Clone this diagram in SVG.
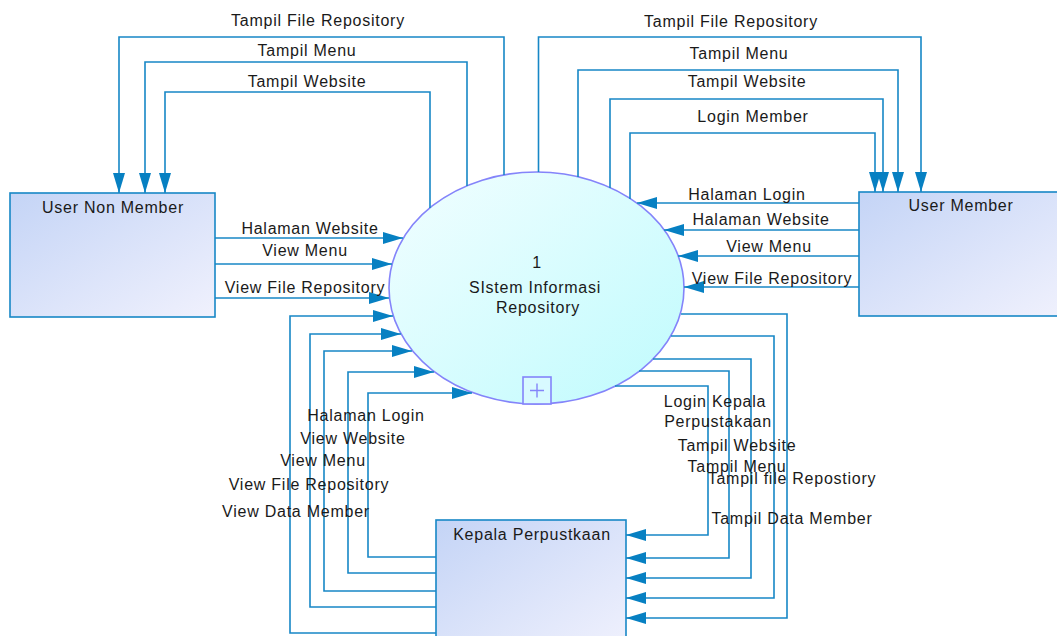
<svg xmlns="http://www.w3.org/2000/svg" width="1057" height="636" viewBox="0 0 1057 636">
<style>
.t{font-family:"Liberation Sans",Arial,sans-serif;font-size:16px;letter-spacing:0.75px;fill:#1a1a1a;text-anchor:middle}
.c{fill:none;stroke:#1787C6;stroke-width:1.6;marker-end:url(#ah)}
.box{fill:url(#gb);stroke:#1787C6;stroke-width:1.6}
</style>
<defs>
<linearGradient id="gb" x1="0" y1="0" x2="1" y2="1">
<stop offset="0" stop-color="#C4D4F6"/>
<stop offset="1" stop-color="#F0F1FD"/>
</linearGradient>
<linearGradient id="ge" x1="0" y1="0" x2="1" y2="1">
<stop offset="0" stop-color="#F2FEFF"/>
<stop offset="1" stop-color="#BFFBFD"/>
</linearGradient>
<marker id="ah" viewBox="0 0 20 12" refX="20" refY="6" markerWidth="20" markerHeight="12" markerUnits="userSpaceOnUse" orient="auto">
<path d="M0,0 L20,6 L0,12 z" fill="#0780C2"/>
</marker>
</defs>
<rect width="1057" height="636" fill="#ffffff"/>

<g id="process1">
<ellipse cx="536.5" cy="288" rx="147.5" ry="116" fill="url(#ge)" stroke="#8484FA" stroke-width="1.6"/>
<rect x="523" y="377" width="28" height="27" fill="#D8FAFF" stroke="#8484FA" stroke-width="1.6"/>
<path d="M530,390.5 H544 M537,383.5 V397.5" stroke="#8484FA" stroke-width="1.4" fill="none"/>
<text class="t" x="537" y="268">1</text>
<text class="t" x="535" y="293">SIstem Informasi</text>
<text class="t" x="538" y="313">Repository</text>
</g>

<g id="userNonMember">
<rect class="box" x="10" y="193" width="205" height="124"/>
<text class="t" x="113" y="213">User Non Member</text>
</g>

<g id="userMember">
<rect class="box" x="859" y="192" width="206" height="124"/>
<text class="t" x="961" y="211">User Member</text>
</g>

<g id="kepalaPerpustakaan">
<rect class="box" x="436" y="520" width="190" height="130"/>
<text class="t" x="532" y="540">Kepala Perpustkaan</text>
</g>

<g id="connectors">
<path class="c" d="M504,175 V37 H119 V193"/>
<path class="c" d="M467,186 V62 H145 V193"/>
<path class="c" d="M430,208 V92 H165 V193"/>

<path class="c" d="M538.5,172 V37 H921 V192"/>
<path class="c" d="M578,177 V70 H898 V192"/>
<path class="c" d="M610,188 V99 H883 V192"/>
<path class="c" d="M630,199 V133 H875 V192"/>

<path class="c" d="M215,238 H403"/>
<path class="c" d="M215,264 H392"/>
<path class="c" d="M215,298 H389"/>

<path class="c" d="M859,203 H637"/>
<path class="c" d="M859,230 H664"/>
<path class="c" d="M859,256 H678"/>
<path class="c" d="M859,287 H684"/>

<path class="c" d="M436,633 H290 V316 H393"/>
<path class="c" d="M436,607 H310 V334 H401"/>
<path class="c" d="M436,591 H324 V351 H412"/>
<path class="c" d="M436,573 H348 V372 H434"/>
<path class="c" d="M436,557 H368 V393 H472"/>

<path class="c" d="M681,314 H787 V618 H626"/>
<path class="c" d="M671,336 H774 V598 H626"/>
<path class="c" d="M653,359 H751 V578 H626"/>
<path class="c" d="M639,371 H729 V558 H626"/>
<path class="c" d="M615,386 H708 V535 H626"/>

<text class="t" x="318" y="25.5">Tampil File Repository</text>
<text class="t" x="307" y="56">Tampil Menu</text>
<text class="t" x="307" y="87">Tampil Website</text>

<text class="t" x="731" y="26.5">Tampil File Repository</text>
<text class="t" x="739" y="58.5">Tampil Menu</text>
<text class="t" x="747" y="86.5">Tampil Website</text>
<text class="t" x="753" y="121.5">Login Member</text>

<text class="t" x="310" y="234">Halaman Website</text>
<text class="t" x="305" y="256">View Menu</text>
<text class="t" x="305" y="293">View File Repository</text>

<text class="t" x="747" y="200">Halaman Login</text>
<text class="t" x="761" y="225">Halaman Website</text>
<text class="t" x="769" y="252">View Menu</text>
<text class="t" x="772" y="284">View File Repository</text>

<text class="t" x="366" y="421">Halaman Login</text>
<text class="t" x="353" y="444">View Website</text>
<text class="t" x="323" y="466">View Menu</text>
<text class="t" x="309" y="490">View File Repository</text>
<text class="t" x="296" y="517">View Data Member</text>

<text class="t" x="715" y="407">Login Kepala</text>
<text class="t" x="718" y="427">Perpustakaan</text>
<text class="t" x="737" y="451">Tampil Website</text>
<text class="t" x="737" y="472">Tampil Menu</text>
<text class="t" x="792" y="484">Tampil file Repostiory</text>
<text class="t" x="792" y="524">Tampil Data Member</text>
</g>
</svg>
